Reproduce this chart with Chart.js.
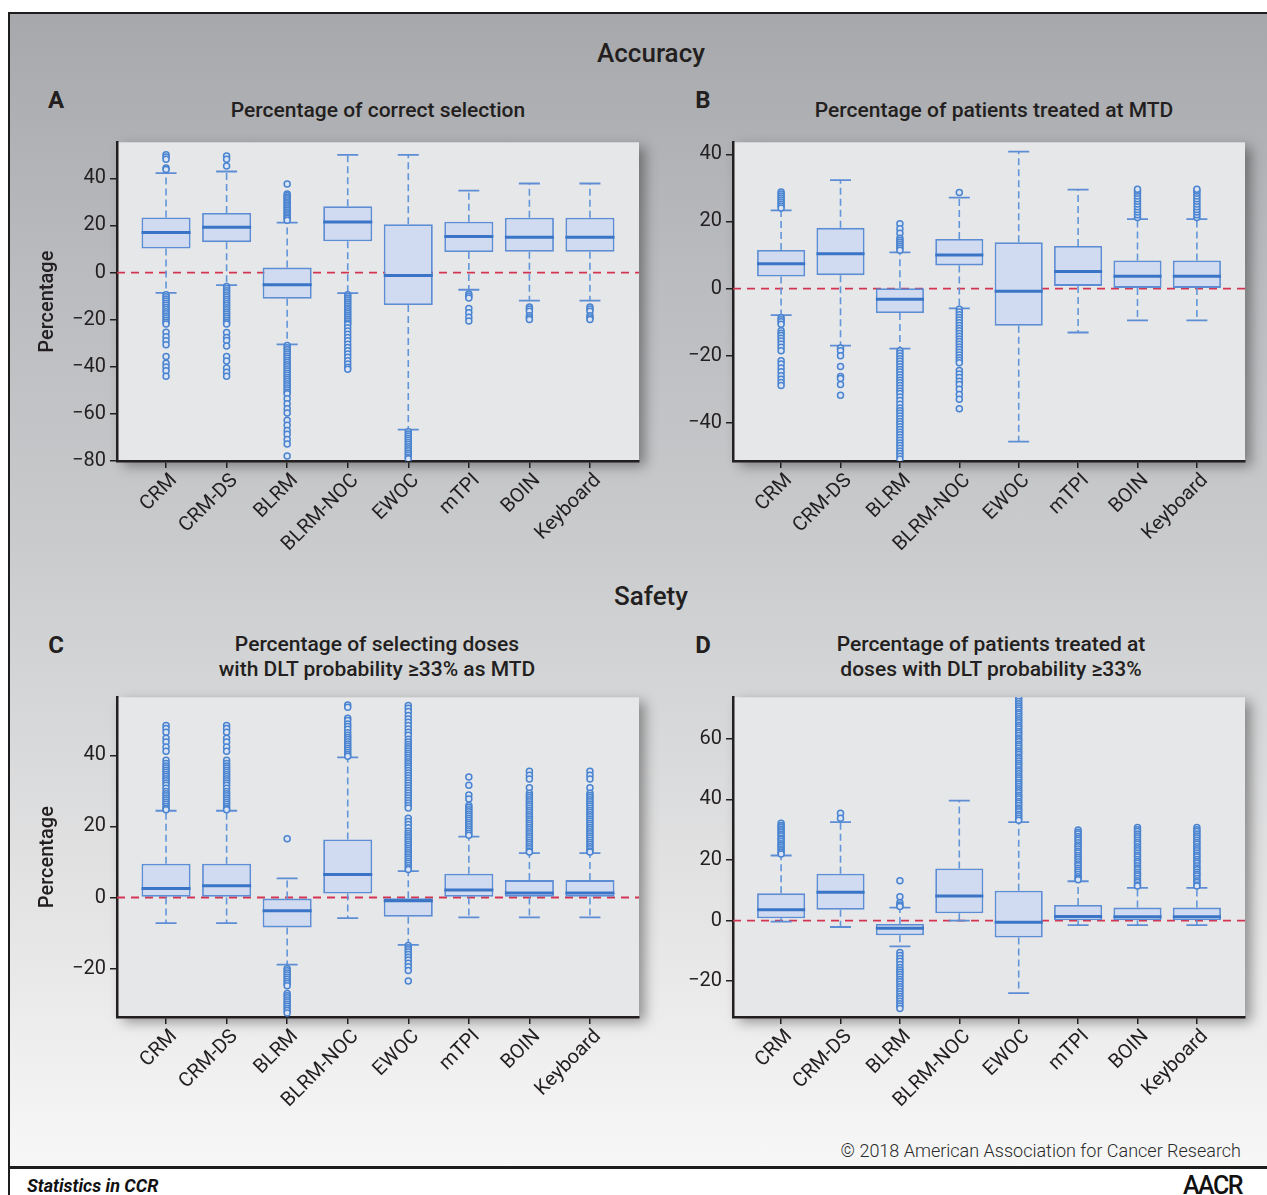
<!DOCTYPE html>
<html>
<head>
<meta charset="utf-8">
<script src="https://cdn.jsdelivr.net/npm/chart.js@4.4.1/dist/chart.umd.min.js"></script>
<style>
  html, body { margin:0; padding:0; width:1267px; height:1195px; overflow:hidden; background:#fff; font-family:Roboto, "Open Sans", sans-serif; color:#231f20; }
  #frame { position:absolute; left:8px; top:12px; width:1280px; height:1152px; border-top:2px solid #1d1d1d; border-left:2px solid #1d1d1d; border-bottom:3px solid #1d1d1d;
    background:linear-gradient(to bottom, #a7a8ab 0%, #babbbe 22%, #c9cacc 45%, #d4d5d6 58%, #e6e6e7 80%, #f7f7f7 100%); }
  #leftfoot { position:absolute; left:8px; top:1160px; width:2px; height:40px; background:#1d1d1d; }
  .t { position:absolute; white-space:nowrap; transform:translate(-50%,-50%); }
  .l { position:absolute; white-space:nowrap; transform:translateY(-50%); }
  .r { position:absolute; white-space:nowrap; transform:translate(-100%,-50%); }
  .sec { font-size:26px; font-weight:500; }
  .ttl { font-size:21px; font-weight:500; text-align:center; line-height:25px; }
  .let { font-size:24px; font-weight:700; }
  canvas { position:absolute; }
</style>
</head>
<body>
<div id="frame"></div>
<div id="leftfoot"></div>

<div class="t sec" style="left:651px; top:53px;">Accuracy</div>
<div class="t let" style="left:56px; top:100px;">A</div>
<div class="t ttl" style="left:378px; top:110px;">Percentage of correct selection</div>
<div class="t let" style="left:703px; top:100px;">B</div>
<div class="t ttl" style="left:994px; top:110px;">Percentage of patients treated at MTD</div>

<div class="t sec" style="left:651px; top:596px;">Safety</div>
<div class="t let" style="left:56px; top:645px;">C</div>
<div class="t ttl" style="left:377px; top:657px;">Percentage of selecting doses<br>with DLT probability ≥33% as MTD</div>
<div class="t let" style="left:703px; top:645px;">D</div>
<div class="t ttl" style="left:991px; top:657px;">Percentage of patients treated at<br>doses with DLT probability ≥33%</div>

<div class="r" style="left:1241px; top:1150px; font-size:18px; font-weight:300; color:#2a2a2a;">© 2018 American Association for Cancer Research</div>
<div class="l" style="left:27px; top:1185px; font-size:18px; font-weight:700; font-style:italic; color:#111;">Statistics in CCR</div>
<div class="r" style="left:1242px; top:1185px; font-size:25px; font-weight:500; letter-spacing:-1.5px; color:#111;">AACR</div>

<canvas id="cA" width="644" height="441" style="left:17px; top:130px;"></canvas>
<canvas id="cB" width="634" height="441" style="left:633px; top:130px;"></canvas>
<canvas id="cC" width="644" height="442" style="left:17px; top:685px;"></canvas>
<canvas id="cD" width="634" height="442" style="left:633px; top:685px;"></canvas>

<script>
// ---------- DATA ----------
const CATEGORIES = ['CRM','CRM-DS','BLRM','BLRM-NOC','EWOC','mTPI','BOIN','Keyboard'];
const Y_TICK_STEP = 20;

// Panel A: Percentage of correct selection
const A_Q1  = [10.2, 12.9, -11.1, 13.3, -13.8, 8.7, 8.8, 8.8];
const A_MED = [17.0, 19.2, -5.2, 21.5, -1.3, 15.3, 15.0, 15.0];
const A_Q3  = [23.4, 25.3, 2.1, 28.2, 20.5, 21.6, 23.3, 23.3];
const A_LO  = [-8.6, -5.3, -30.5, -8.7, -66.7, -7.3, -11.9, -11.9];
const A_HI  = [42.2, 42.9, 21.2, 50.0, 50.0, 34.8, 37.8, 37.8];
const A_OUT = [
  [50, 49.1, 48.1, 44.4, 43.8, -9.4, -10.3, -11.2, -12.1, -13, -13.9, -14.8, -15.7, -16.6, -17.5, -18.4, -19.3, -20.2, -21.1, -21.8, -25.3, -27.2, -29, -30.7, -35.6, -38.5, -40.1, -41.7, -44],
  [49.5, 48.1, 45.2, -5.9, -6.8, -7.7, -8.6, -9.5, -10.4, -11.3, -12.2, -13.1, -14, -14.9, -15.8, -16.7, -17.6, -18.5, -19.4, -20.3, -21.2, -21.8, -25.5, -27.6, -28.8, -31.2, -35.6, -37.5, -40.5, -42.3, -44],
  [37.6, 33.4, 32.7, 32, 31.3, 30.6, 29.9, 29.2, 28.5, 27.8, 27.1, 26.4, 25.7, 25, 24.3, 23.6, 22.9, 22.2, -31, -31.9, -32.8, -33.7, -34.6, -35.5, -36.4, -37.3, -38.2, -39.1, -40, -40.9, -41.8, -42.7, -43.6, -44.5, -45.4, -46.3, -47.2, -48.1, -49, -49.9, -50.8, -51.5, -53.6, -55.7, -57.8, -59.6, -62.7, -64.8, -67, -68.6, -70.9, -72.8, -77.9],
  [-9.4, -10.2, -11, -11.8, -12.6, -13.4, -14.2, -15, -15.8, -16.6, -17.4, -18.2, -19, -19.8, -20.6, -21.4, -22, -23.4, -24.8, -26.2, -27.6, -29, -30.4, -31.8, -33.2, -34.6, -36, -37.4, -38.8, -40.2, -41],
  [-67.6, -68.5, -69.4, -70.3, -71.2, -72.1, -73, -73.9, -74.8, -75.7, -76.6, -77.5, -78.4, -79],
  [-9.1, -9.9, -10.8, -15.3, -17.1, -19, -20.6],
  [-14.6, -15.5, -16.4, -18.3, -19.2, -19.9],
  [-14.6, -15.5, -16.4, -18.3, -19.2, -19.9]
];

// Panel B: Percentage of patients treated at MTD
const B_Q1  = [3.6, 4.0, -7.3, 6.9, -11.1, 0.8, 0.2, 0.2];
const B_MED = [7.4, 10.4, -3.2, 10.0, -0.8, 5.1, 3.7, 3.7];
const B_Q3  = [11.5, 18.1, 0.1, 14.8, 13.8, 12.7, 8.4, 8.4];
const B_LO  = [-7.9, -17.0, -17.9, -5.9, -45.6, -13.1, -9.5, -9.5];
const B_HI  = [23.3, 32.3, 10.8, 27.1, 40.8, 29.5, 20.7, 20.7];
const B_OUT = [
  [28.8, 28.2, 27.6, 27, 26.4, 25.8, 25.2, 24.6, 24, -8.7, -9.3, -9.9, -10.6, -12.6, -13.3, -14, -14.8, -15.6, -16.5, -17.5, -18.5, -21.5, -22.5, -23.7, -24.8, -26, -27, -28, -28.9],
  [-17.7, -18.5, -20, -23.2, -26.2, -26.8, -28.6, -31.8],
  [19.3, 17.8, 16.5, 15, 14.4, 13.8, 13.2, 12.6, 12, 11.4, -18.5, -19.3, -20.1, -20.9, -21.7, -22.5, -23.3, -24.1, -24.9, -25.7, -26.5, -27.3, -28.1, -28.9, -29.7, -30.5, -31.3, -32.3, -33.4, -34.5, -35.6, -36.4, -37.2, -38, -38.8, -39.6, -40.4, -41.2, -42, -42.8, -43.6, -44.4, -45.2, -46, -46.8, -47.6, -48.4, -49.2, -50, -50.8],
  [28.6, -6.2, -7, -7.8, -8.6, -9.4, -10.2, -11, -11.8, -12.6, -13.4, -14.2, -15, -15.8, -16.6, -17.4, -18.2, -19, -19.8, -20.6, -21.4, -22.1, -24.4, -25.5, -26.5, -27.6, -28.6, -30, -31.6, -33, -35.8],
  [],
  [],
  [21.2, 22, 22.8, 23.6, 24.4, 25.2, 26, 26.8, 27.6, 28.4, 29.1, 29.6],
  [21.2, 22, 22.8, 23.6, 24.4, 25.2, 26, 26.8, 27.6, 28.4, 29.1, 29.6]
];

// Panel C: Percentage of selecting doses with DLT probability >=33% as MTD
const C_Q1  = [0, 0, -8.4, 1.1, -5.4, 0, 0, 0];
const C_MED = [2.5, 3.3, -3.7, 6.5, -0.9, 2.1, 1.3, 1.3];
const C_Q3  = [9.5, 9.5, -0.3, 16.3, -0.2, 6.7, 4.9, 4.9];
const C_LO  = [-7.2, -7.2, -18.9, -5.8, -13.3, -5.6, -5.6, -5.6];
const C_HI  = [24.4, 24.4, 5.4, 39.4, 7.4, 17.1, 12.5, 12.5];
const C_OUT = [
  [48.4, 47.5, 46.5, 44.8, 43.7, 42.3, 41.1, 38.6, 37.7, 37, 36.4, 35.8, 35.2, 34.6, 34, 33.4, 32.8, 32.2, 31.6, 30.7, 29.8, 29.2, 28.6, 28, 27.4, 26.8, 26.2, 25.6, 25, 24.7],
  [48.4, 47.5, 46.5, 44.8, 43.7, 42.3, 41.1, 38.6, 37.7, 37, 36.4, 35.8, 35.2, 34.6, 34, 33.4, 32.8, 32.2, 31.6, 30.7, 29.8, 29.2, 28.6, 28, 27.4, 26.8, 26.2, 25.6, 25, 24.7],
  [16.5, -20, -20.6, -21.2, -21.8, -22.4, -23, -23.6, -24.2, -24.8, -27, -27.6, -28.2, -28.8, -29.4, -30, -30.6, -31.2, -31.8, -32.5],
  [54.1, 53.5, 50.4, 49.8, 48.8, 48.1, 47.3, 46.3, 45.6, 45, 44.4, 43.8, 43.2, 42.6, 42, 41.4, 40.8, 40.2, 39.7],
  [54, 53.2, 52.3, 51.2, 50.2, 49.3, 48.4, 47.4, 46.5, 45.6, 44.5, 43.7, 43, 42.4, 41.8, 41.2, 40.6, 40, 39.4, 38.8, 38.2, 37.6, 37, 36.4, 35.7, 35, 34.3, 33.6, 32.9, 32.2, 31.5, 30.8, 30.1, 29.4, 28.7, 28, 27.3, 26.6, 25.9, 25.2, 22.3, 21.4, 20.5, 19.6, 18.6, 18, 17.4, 16.8, 16.2, 15.6, 15, 14.4, 13.8, 13.2, 12.6, 12, 11.4, 10.8, 10.2, 9.6, 9, 8.4, 7.9, -13.5, -14.1, -14.7, -15.3, -16, -16.8, -17.6, -18.5, -19.5, -20.5, -23.5],
  [33.9, 31.6, 28.8, 27.7, 25.9, 25.3, 24.7, 24.1, 23.5, 22.9, 22.3, 21.7, 21.1, 20.5, 19.9, 19.3, 18.7, 18.1, 17.5],
  [35.5, 34.4, 33.3, 30.9, 29.3, 28.7, 28.1, 27.5, 26.9, 26.3, 25.7, 25.1, 24.5, 23.9, 23.3, 22.7, 22.1, 21.5, 20.9, 20.3, 19.7, 19.1, 18.5, 17.9, 17.3, 16.7, 16.1, 15.5, 14.9, 14.3, 13.7, 13.1, 12.8],
  [35.5, 34.4, 33.3, 30.9, 29.3, 28.7, 28.1, 27.5, 26.9, 26.3, 25.7, 25.1, 24.5, 23.9, 23.3, 22.7, 22.1, 21.5, 20.9, 20.3, 19.7, 19.1, 18.5, 17.9, 17.3, 16.7, 16.1, 15.5, 14.9, 14.3, 13.7, 13.1, 12.8]
];

// Panel D: Percentage of patients treated at doses with DLT probability >=33%
const D_Q1  = [0.8, 3.6, -4.8, 2.4, -5.6, 0.1, 0.1, 0.1];
const D_MED = [3.6, 9.4, -2.5, 8.1, -0.5, 1.4, 1.3, 1.3];
const D_Q3  = [9.0, 15.5, -1.1, 17.2, 9.9, 5.2, 4.3, 4.3];
const D_LO  = [-0.3, -2.1, -8.5, 0, -23.9, -1.5, -1.5, -1.5];
const D_HI  = [21.5, 32.5, 4.3, 39.6, 32.5, 13.0, 10.8, 10.8];
const D_OUT = [
  [32.1, 31.4, 30.9, 30.2, 29.7, 29.1, 28.4, 27.9, 27.2, 26.8, 26.1, 25.4, 24.9, 24.3, 23.6, 23.1, 22.5, 22],
  [35.4, 33.8],
  [13.2, 7.9, 5.9, 5.2, 4.7, -10.5, -11.5, -12.5, -13.4, -14.5, -15.5, -16.3, -17, -17.8, -18.6, -19.4, -20.2, -21, -21.8, -22.6, -23.4, -24.2, -25, -25.8, -26.6, -27.4, -28.2, -29],
  [],
  [73.7, 73.1, 72.3, 71.6, 70.8, 70.2, 69.5, 68.7, 68.1, 67.4, 66.6, 66, 65.3, 64.5, 63.9, 63.2, 62.4, 61.8, 61.1, 60.3, 59.7, 59, 58.2, 57.6, 56.9, 56.1, 55.5, 54.8, 54, 53.4, 52.7, 51.9, 51.3, 50.6, 49.8, 49.2, 48.5, 47.7, 47.1, 46.4, 45.6, 45, 44.3, 43.5, 42.9, 42.2, 41.4, 40.8, 40.1, 39.3, 38.7, 38, 37.2, 36.6, 35.9, 35.1, 34.5, 33.8, 33.1],
  [29.9, 29.2, 28.6, 27.8, 27.1, 26.5, 25.7, 25, 24.4, 23.6, 22.9, 22.3, 21.5, 20.8, 20.2, 19.4, 18.7, 18.1, 17.3, 16.6, 16, 15.2, 14.5, 13.9, 13.5],
  [30.7, 30, 29.4, 28.6, 27.9, 27.3, 26.5, 25.8, 25.2, 24.4, 23.7, 23.1, 22.3, 21.6, 21, 20.2, 19.5, 18.9, 18.1, 17.4, 16.8, 16, 15.3, 14.7, 13.9, 13.2, 12.6, 11.8, 11.4],
  [30.7, 30, 29.4, 28.6, 27.9, 27.3, 26.5, 25.8, 25.2, 24.4, 23.7, 23.1, 22.3, 21.6, 21, 20.2, 19.5, 18.9, 18.1, 17.4, 16.8, 16, 15.3, 14.7, 13.9, 13.2, 12.6, 11.8, 11.4]
];

// ---------- STYLE ----------
const X_MIN = -0.81, X_MAX = 7.81, BOX_FRAC = 0.81;
const INK = '#231f20';
const BOX_FILL = '#d0dbf1', BOX_LINE = '#5d8dd4', MED_LINE = '#3a74c6', WHISK = '#6296da', OUT_LINE = '#4a84d0', OUT_FILL = '#dbe4f4';
const REF_RED = '#d3344f';

const plotBg = {
  id: 'plotBg',
  beforeDraw(chart) {
    const {ctx, chartArea: a} = chart;
    ctx.save();
    ctx.shadowColor = 'rgba(0,0,0,0.38)';
    ctx.shadowBlur = 12;
    ctx.shadowOffsetX = 6;
    ctx.shadowOffsetY = 5;
    ctx.fillStyle = '#e6e7e9';
    ctx.fillRect(a.left, a.top, a.width, a.height);
    ctx.restore();
  }
};

function halfBoxPx(ctx) {
  const s = ctx.chart.scales.x;
  return (s.getPixelForValue(BOX_FRAC / 2) - s.getPixelForValue(0));
}

function makePanel(id, q1, med, q3, lo, hi, out, yMin, yMax, showTitle) {
  const boxData = CATEGORIES.map((c, i) => ({x: i, y: [q1[i], q3[i]]}));
  const medData = CATEGORIES.map((c, i) => ({x: i, y: med[i]}));
  const capData = [];
  const whiskData = [];
  const outData = [];
  CATEGORIES.forEach((c, i) => {
    capData.push({x: i, y: hi[i]}, {x: i, y: lo[i]});
    whiskData.push({x: i, y: q3[i]}, {x: i, y: hi[i]}, {x: i, y: null},
                   {x: i, y: q1[i]}, {x: i, y: lo[i]}, {x: i, y: null});
    out[i].forEach(v => outData.push({x: i, y: v}));
  });

  const tickFont = {family: 'Roboto', size: 20};
  new Chart(document.getElementById(id), {
    type: 'bar',
    data: {
      datasets: [
        {type: 'line', data: [{x: X_MIN, y: 0}, {x: X_MAX, y: 0}], borderColor: REF_RED, borderWidth: 1.8,
         borderDash: [8, 6], pointRadius: 0, order: 10},
        {type: 'line', data: whiskData, borderColor: WHISK, borderWidth: 1.6, borderDash: [7, 4],
         pointRadius: 0, spanGaps: false, order: 8},
        {type: 'scatter', data: capData, pointStyle: 'line', pointRadius: 10.5, pointBorderWidth: 1.8,
         pointBorderColor: BOX_LINE, order: 7},
        {type: 'bar', data: boxData, backgroundColor: BOX_FILL, borderColor: BOX_LINE, borderWidth: 1.8,
         borderSkipped: false, categoryPercentage: 1, barPercentage: BOX_FRAC, order: 5},
        {type: 'scatter', data: medData, pointStyle: 'line', pointRadius: halfBoxPx, pointBorderWidth: 3,
         pointBorderColor: MED_LINE, order: 4},
        {type: 'scatter', data: outData, pointStyle: 'circle', pointRadius: 3, pointBorderWidth: 1.5,
         pointBorderColor: OUT_LINE, pointBackgroundColor: OUT_FILL, order: 2}
      ]
    },
    options: {
      responsive: false,
      animation: false,
      events: [],
      layout: {padding: {top: 9, right: 22, left: 0, bottom: 0}},
      plugins: {legend: {display: false}, tooltip: {enabled: false}},
      scales: {
        x: {
          type: 'linear', min: X_MIN, max: X_MAX, offset: false,
          afterBuildTicks: s => { s.ticks = CATEGORIES.map((c, i) => ({value: i})); },
          afterFit: s => { s.height = 110; s.paddingLeft = 0; s.paddingRight = 0; },
          ticks: {callback: v => CATEGORIES[v], minRotation: 45, maxRotation: 45, autoSkip: false,
                  font: tickFont, color: INK, padding: 1, labelOffset: 8},
          grid: {display: true, drawOnChartArea: false, drawTicks: true, tickLength: 7, color: INK, lineWidth: 1.5, offset: false},
          border: {display: true, color: INK, width: 2.5}
        },
        y: {
          min: yMin, max: yMax,
          afterFit: s => { s.width = 100; s.paddingTop = 0; s.paddingBottom = 0; },
          ticks: {stepSize: Y_TICK_STEP, includeBounds: false, font: tickFont, color: INK, padding: 4,
                  callback: v => String(v).replace('-', '\u2212')},
          grid: {display: true, drawOnChartArea: false, drawTicks: true, tickLength: 7, color: INK, lineWidth: 1.5},
          border: {display: true, color: INK, width: 2.5},
          title: {display: showTitle, text: 'Percentage', color: INK,
                  font: {family: 'Roboto', size: 20, weight: '500'}, padding: {top: 19, bottom: 0}}
        }
      }
    },
    plugins: [plotBg]
  });
}

makePanel('cA', A_Q1, A_MED, A_Q3, A_LO, A_HI, A_OUT, -80, 55.3, true);
makePanel('cB', B_Q1, B_MED, B_Q3, B_LO, B_HI, B_OUT, -51.4, 43.6, false);
makePanel('cC', C_Q1, C_MED, C_Q3, C_LO, C_HI, C_OUT, -33.6, 56.3, true);
makePanel('cD', D_Q1, D_MED, D_Q3, D_LO, D_HI, D_OUT, -31.8, 73.7, false);
</script>
</body>
</html>
